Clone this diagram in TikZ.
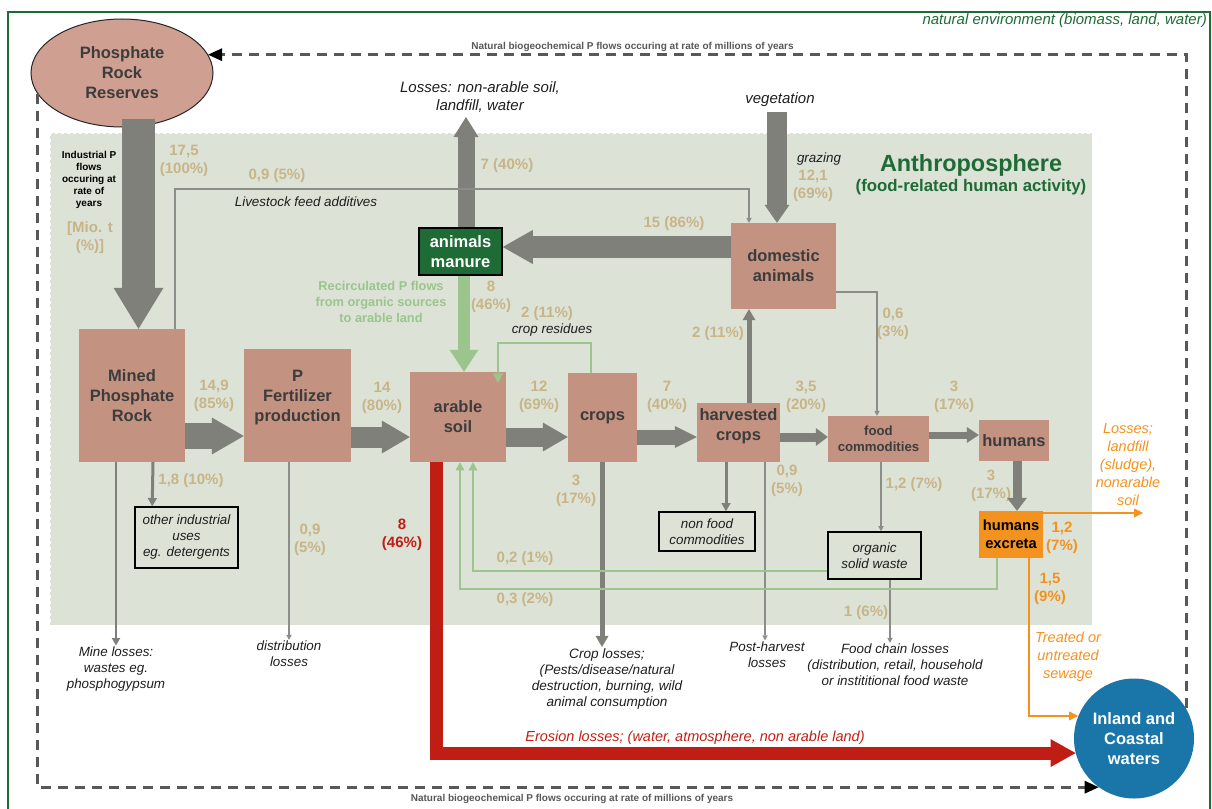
\documentclass[tikz,border=0pt]{standalone}
\usepackage{fontspec}
\setmainfont{Liberation Sans}
\usetikzlibrary{arrows.meta,calc,shapes.geometric}
\definecolor{salmon}{RGB}{196,146,128}
\definecolor{ellfill}{RGB}{207,160,145}
\definecolor{boxtxt}{RGB}{60,60,60}
\definecolor{garrow}{RGB}{128,128,122}
\definecolor{gline}{RGB}{140,140,136}
\definecolor{anthro}{RGB}{220,226,214}
\definecolor{dgreen}{RGB}{30,107,53}
\definecolor{lgreen}{RGB}{155,197,140}
\definecolor{tanc}{RGB}{200,181,135}
\definecolor{redc}{RGB}{192,30,20}
\definecolor{orangec}{RGB}{243,146,30}
\definecolor{bluec}{RGB}{26,118,168}
\definecolor{dashc}{RGB}{88,88,88}
\definecolor{labtxt}{RGB}{30,30,30}
\tikzset{
  box/.style={fill=salmon, text=boxtxt, font=\fontsize{16.5}{20}\selectfont\bfseries, align=center, inner sep=0pt},
  btxt/.style={text=boxtxt, font=\fontsize{16.5}{20}\selectfont\bfseries, align=center, inner sep=0pt},
  tanl/.style={text=tanc, font=\fontsize{15}{18}\selectfont\bfseries, align=center, inner sep=1pt},
  ital/.style={text=labtxt, font=\fontsize{13.4}{16}\selectfont\itshape, align=center, inner sep=1pt},
  bigital/.style={text=labtxt, font=\fontsize{15}{18}\selectfont\itshape, align=center, inner sep=1pt},
  wbox/.style={draw=black, line width=1.6pt, text=labtxt, font=\fontsize{13.4}{16}\selectfont\itshape, align=center, inner sep=0pt},
  bigarr/.style n args={3}{draw=garrow, line width=#1, -{Triangle[length=#3,width=#2,line width=0pt]}},
  medarr/.style={draw=garrow, line width=#1, -{Triangle[length=4pt 1.4,width=4pt 1.8,line width=0pt]}},
  thinarr/.style={draw=gline, line width=#1, -{Triangle[length=5pt,width=5.5pt,line width=0pt]}},
  grnarr/.style={draw=lgreen, line width=#1, -{Triangle[length=6pt 1.4,width=6pt 1.8,line width=0pt]}},
  orarr/.style={draw=orangec, line width=2.5pt, -{Triangle[length=9pt,width=9pt,line width=0pt]}},
  natdash/.style={draw=dashc, line width=3pt, dash pattern=on 10pt off 7pt, -{Triangle[length=14pt,width=13pt,line width=0pt,color=black]}},
}
\begin{document}
\begin{tikzpicture}[x=1pt,y=-1pt]
\useasboundingbox (0,0) rectangle (1212,808);
% frames
\draw[dgreen, line width=2.5pt] (8,12) rectangle (1210,830);
\node[anchor=east, text=dgreen, font=\fontsize{15}{18}\selectfont\itshape, inner sep=0pt] (natenv) at (1207,21) {natural environment (biomass, land, water)};
\fill[anthro] (50,133) rectangle (1092,625);
\draw[white, line width=1pt, dashed] (50,133) rectangle (1092,625);

% main nodes
\node[ellipse, btxt, draw=black!85, line width=1pt, fill=ellfill, minimum width=182pt, minimum height=108pt] (ell) at (122,73) {Phosphate\\Rock\\Reserves};
\node[box, minimum width=106pt, minimum height=133pt] (mined) at (132,395.5) {Mined\\Phosphate\\Rock};
\node[box, minimum width=107pt, minimum height=113pt] (pfert) at (297.5,405.5) {};
\node[btxt] (pfertT) at (297.5,398) {P\\Fertilizer\\production};
\node[box, minimum width=96pt, minimum height=90pt] (arable) at (458,417) {arable\\soil};
\node[box, minimum width=69pt, minimum height=89pt] (crops) at (602.5,417.5) {crops};
\node[box, minimum width=83pt, minimum height=59pt] (harv) at (738.5,432.5) {};
\node[btxt] (harvT) at (738.5,426) {harvested\\crops};
\node[box, minimum width=105pt, minimum height=86pt] (dom) at (783.5,266) {domestic\\animals};
\node[box, minimum width=101pt, minimum height=46pt, font=\fontsize{13.2}{16}\selectfont\bfseries] (food) at (878.5,439) {food\\commodities};
\node[box, minimum width=70pt, minimum height=41pt] (humans) at (1014,440.5) {humans};
\node[box, fill=orangec, text=black, minimum width=64pt, minimum height=47pt, font=\fontsize{14.7}{18}\selectfont\bfseries] (excreta) at (1011,534.5) {humans\\excreta};
\node[box, fill=dgreen, draw=black, line width=1.5pt, text=white, minimum width=83pt, minimum height=47pt] (manure) at (460.5,251.5) {animals\\manure};
\node[circle, btxt, text=white, fill=bluec, minimum size=120pt] (waters) at (1134,738.5) {Inland and\\Coastal\\waters};

\node[wbox, minimum width=103pt, minimum height=61pt] (othind) at (186.5,537.5) {other industrial\\uses\\eg. detergents};
\node[wbox, minimum width=96pt, minimum height=39pt] (nonfood) at (707,531.5) {non food\\commodities};
\node[wbox, minimum width=93pt, minimum height=47pt] (orgw) at (874.5,555.5) {organic\\solid waste};

% text labels
\node[text=dgreen, font=\fontsize{23.4}{26}\selectfont\bfseries, inner sep=0pt] (anth) at (971,165) {Anthroposphere};
\node[text=dgreen, font=\fontsize{16.8}{20}\selectfont\bfseries, inner sep=0pt] (anth2) at (971,187) {(food-related human activity)};
\node[text=dashc, font=\fontsize{10}{12}\selectfont\bfseries, inner sep=0pt] (nattop) at (632.5,47) {Natural biogeochemical P flows occuring at rate of millions of years};
\node[text=dashc, font=\fontsize{10}{12}\selectfont\bfseries, inner sep=0pt] (natbot) at (572,799) {Natural biogeochemical P flows occuring at rate of millions of years};
\node[text=black, font=\fontsize{10}{12}\selectfont\bfseries, align=center, inner sep=0pt] (indus) at (89,180) {Industrial P\\flows\\occuring at\\rate of\\years};
\node[tanl] (mio) at (90,238) {[Mio. t\\(\%)]};
\node[text=lgreen, font=\fontsize{12.8}{16}\selectfont\bfseries, align=center, inner sep=0pt] (recirc) at (381,302) {Recirculated P flows\\from organic sources\\to arable land};

\node[bigital] (lossup) at (480,97) {Losses: non-arable soil,\\landfill, water};
\node[bigital] (veg) at (780,100) {vegetation};
\node[ital] (graz) at (819,159) {grazing};
\node[ital] (feedlab) at (306,202) {Livestock feed additives};
\node[ital] (cropres) at (552,330) {crop residues};
\node[ital] (mineloss) at (116,669) {Mine losses:\\wastes eg.\\phosphogypsum};
\node[ital] (distloss) at (289,654) {distribution\\losses};
\node[ital, font=\fontsize{13.6}{16}\selectfont\itshape] (croploss) at (607,678.5) {Crop losses;\\(Pests/disease/natural\\destruction, burning, wild\\animal consumption};
\node[ital] (postloss) at (767,654.5) {Post-harvest\\losses};
\node[ital] (fcloss) at (895,665) {Food chain losses\\(distribution, retail, household\\or instititional food waste};
\node[ital, text=redc, font=\fontsize{14.5}{18}\selectfont\itshape] (erolab) at (695,738) {Erosion losses; (water, atmosphere, non arable land)};
\node[ital, text=orangec, font=\fontsize{14.5}{18.2}\selectfont\itshape] (olosslab) at (1128,464.5) {Losses;\\landfill\\(sludge),\\nonarable\\soil};
\node[ital, text=orangec, font=\fontsize{14.5}{18}\selectfont\itshape] (sewage) at (1068,657) {Treated or\\untreated\\sewage};

% numbers
\node[tanl] at (184,161) {17,5\\(100\%)};
\node[tanl] at (277,176) {0,9 (5\%)};
\node[tanl] at (507,166) {7 (40\%)};
\node[tanl] at (674,224) {15 (86\%)};
\node[tanl] at (813,186) {12,1\\(69\%)};
\node[tanl] at (491,297) {8\\(46\%)};
\node[tanl] at (547,314) {2 (11\%)};
\node[tanl] at (718,334) {2 (11\%)};
\node[tanl] at (893,323.5) {0,6\\(3\%)};
\node[tanl] at (214,395.5) {14,9\\(85\%)};
\node[tanl] at (382,397.5) {14\\(80\%)};
\node[tanl] at (539,397) {12\\(69\%)};
\node[tanl] at (667,397) {7\\(40\%)};
\node[tanl] at (806,397) {3,5\\(20\%)};
\node[tanl] at (954,397) {3\\(17\%)};
\node[tanl] at (191,481) {1,8 (10\%)};
\node[tanl] at (310,539.5) {0,9\\(5\%)};
\node[tanl, text=redc] at (402,534.5) {8\\(46\%)};
\node[tanl] at (576,491) {3\\(17\%)};
\node[tanl] at (787,481) {0,9\\(5\%)};
\node[tanl] at (914,485) {1,2 (7\%)};
\node[tanl] at (991,485.5) {3\\(17\%)};
\node[tanl, text=orangec] at (1062,537.5) {1,2\\(7\%)};
\node[tanl, text=orangec] at (1050,589) {1,5\\(9\%)};
\node[tanl] at (525,559) {0,2 (1\%)};
\node[tanl] at (525,600) {0,3 (2\%)};
\node[tanl] at (866,613) {1 (6\%)};

% free-end coordinates
\coordinate (vegc) at (777,112);
\coordinate (lossc) at (466,117);
\coordinate (feedc) at (749,189);
\coordinate (crc) at (498,343);
\coordinate (c03) at (700,589);
\coordinate (oend) at (1143,513);

% natural dashed flows
\draw[natdash] (waters.30) |- (ell.12);
\draw[natdash] (ell.194) |- (waters.234);

% big gray flows
\draw[bigarr={33pt}{50pt}{41pt}] ([xshift=16.5pt,yshift=9pt]ell.south) -- ([xshift=6.5pt]mined.north);
\draw[bigarr={26pt}{37pt}{32pt}] ([yshift=-40.5pt]mined.east) -- ([yshift=-30.5pt]pfert.west);
\draw[bigarr={21pt}{33pt}{28pt}] ([yshift=-31.5pt]pfert.east) -- ([yshift=-20pt]arable.west);
\draw[bigarr={19pt}{29pt}{25pt}] ([yshift=-20pt]arable.east) -- ([yshift=-19.5pt]crops.west);
\draw[bigarr={15pt}{22pt}{22pt}] ([yshift=-19.5pt]crops.east) -- ([yshift=-4.5pt]harv.west);
\draw[bigarr={9pt}{18pt}{12pt}] ([yshift=-4.5pt]harv.east) -- ([yshift=2pt]food.west);
\draw[bigarr={7pt}{16pt}{12pt}] ([yshift=4pt]food.east) -- ([yshift=5.5pt]humans.west);
\draw[bigarr={9pt}{20pt}{13pt}] ([xshift=3pt]humans.south) -- ([xshift=6pt]excreta.north);
\draw[bigarr={22pt}{34pt}{30pt}] ([yshift=19pt]dom.west) -- ([yshift=4.5pt]manure.east);
\draw[bigarr={20pt}{25pt}{18pt}] (vegc) -- ([xshift=-6.5pt]dom.north);
\draw[bigarr={17pt}{25pt}{20pt}] ([xshift=5.5pt]manure.north) -- (lossc);
\draw[bigarr={12pt}{29pt}{22pt}, draw=lgreen] ([xshift=3.5pt]manure.south) -- ([xshift=6pt]arable.north);

% medium gray flows
\draw[medarr=5pt] ([xshift=10.5pt]harv.north) -- ([xshift=-34.5pt]dom.south);
\draw[medarr=5pt] ([xshift=-0.5pt]crops.south) -- ([xshift=-5pt]croploss.north);
\draw[medarr=3pt] ([xshift=21pt]mined.south) -- ([xshift=18pt]othind.north west);
\draw[medarr=3pt] ([xshift=-12.5pt]harv.south) -- ([xshift=19pt]nonfood.north);
\draw[medarr=2.5pt] ([xshift=-16pt]mined.south) -- (mineloss.north);

% thin gray flows
\draw[thinarr=1.5pt] ([xshift=-8.5pt]pfert.south) -- (distloss.north);
\draw[thinarr=1.5pt] ([xshift=26.5pt]harv.south) -- ([xshift=-2pt]postloss.north);
\draw[thinarr=1.5pt] ([xshift=2.5pt]food.south) -- ([xshift=6.5pt]orgw.north);
\draw[thinarr=1.5pt] ([xshift=15.5pt]orgw.south) -- ([xshift=-5pt]fcloss.north);
\draw[thinarr=1.5pt] ([xshift=43pt]mined.north) |- (feedc) -- ([xshift=-34.5pt]dom.north);
\draw[thinarr=1.5pt] ([yshift=-26pt]dom.east) -| ([xshift=-1.5pt]food.north);

% green recirculation
\draw[grnarr=2.5pt] ([xshift=-11.5pt]crops.north) |- (crc) -- ([xshift=40pt,yshift=-11pt]arable.north);
\draw[grnarr=1.5pt] ([yshift=-15.5pt]orgw.west) -| ([xshift=15pt]arable.south);
\draw[grnarr=1.5pt] ([xshift=-14pt]excreta.south) |- (c03) -| ([xshift=2pt]arable.south);

% orange
\draw[orarr] ([yshift=21.5pt]excreta.east) -- (oend);
\draw[orarr] ([xshift=18pt]excreta.south) |- (waters.158);

% red erosion
\draw[draw=redc, line width=13pt, line join=miter, -{Triangle[length=25pt,width=28pt,line width=0pt]}] ([xshift=-22pt]arable.south) |- (waters.194);
\end{tikzpicture}
\end{document}
